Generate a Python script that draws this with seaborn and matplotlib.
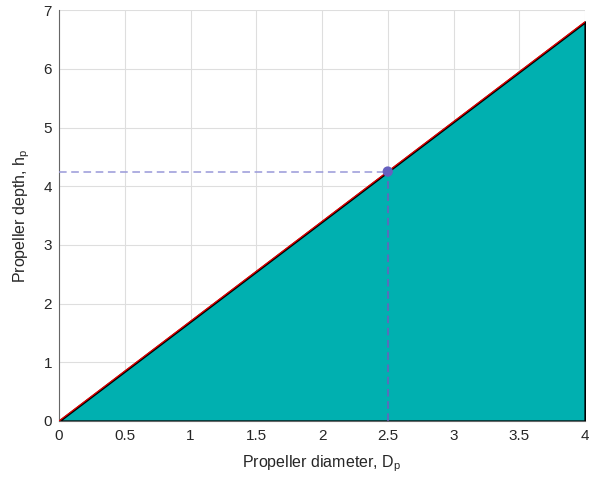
import numpy as np
import pandas as pd
import matplotlib
matplotlib.use("Agg")
import matplotlib.pyplot as plt
import seaborn as sns

# data
diameter = [0.0, 4.0]
depth = [0.0, 6.8]
point_d = [2.5]
point_h = [4.25]

sns.set_style("white")
plt.rcParams['font.family'] = ['Liberation Sans', 'DejaVu Sans']
plt.rcParams['mathtext.fontset'] = 'custom'
plt.rcParams['mathtext.rm'] = 'Liberation Sans'

df = pd.DataFrame({'D': diameter, 'h': depth})

fig = plt.figure(figsize=(5.89, 4.82), dpi=100)
ax = fig.add_axes([0.1002, 0.1266, 0.893, 0.8524])

ax.fill_between(df['D'], 0, df['h'], facecolor=(0.0, 0.69, 0.69),
                edgecolor='black', linewidth=1.6, zorder=2)
sns.lineplot(data=df, x='D', y='h', color=(0.9, 0.0, 0.0), linewidth=0.9,
             ax=ax, zorder=3)

# guide lines to the marked point
ax.plot([0, point_d[0]], [point_h[0], point_h[0]], ls=(0, (5, 3)),
        color=(0.6, 0.6, 0.85), lw=1.1, zorder=3)
ax.plot([point_d[0], point_d[0]], [0, point_h[0]], ls=(0, (5, 3)),
        color=(0.45, 0.35, 0.75), lw=1.1, zorder=3)
sns.scatterplot(x=point_d, y=point_h, color=(0.4, 0.38, 0.75), s=55,
                edgecolor='none', ax=ax, zorder=4)

ax.set_xlim(0, 4)
ax.set_ylim(0, 7)
ax.set_xticks(np.arange(0, 4.01, 0.5))
ax.set_xticklabels(['0', '0.5', '1', '1.5', '2', '2.5', '3', '3.5', '4'])
ax.set_yticks(range(0, 8))
ax.grid(True, color=(0.87, 0.87, 0.87), linewidth=0.8)
ax.set_axisbelow(True)

for s in ['top', 'right']:
    ax.spines[s].set_visible(False)
for s in ['left', 'bottom']:
    ax.spines[s].set_color((0.4, 0.4, 0.4))
    ax.spines[s].set_linewidth(0.8)

ax.tick_params(direction='in', length=3, labelsize=11, colors=(0.4, 0.4, 0.4),
               labelcolor=(0.15, 0.15, 0.15))
ax.tick_params(axis='x', pad=6)
ax.tick_params(axis='y', pad=5)
ax.set_xlabel('Propeller diameter, D$_{\\mathrm{p}}$', fontsize=11.5,
              color=(0.15, 0.15, 0.15), labelpad=7)
ax.set_ylabel('Propeller depth, h$_{\\mathrm{p}}$', fontsize=11.5,
              color=(0.15, 0.15, 0.15), labelpad=8)

fig.savefig('out.png', dpi=100)
